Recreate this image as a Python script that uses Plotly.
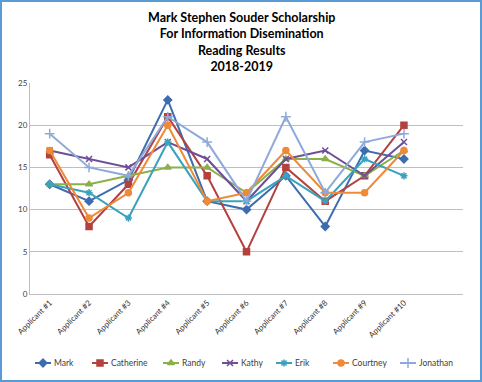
import plotly.graph_objects as go

categories = ["Applicant #1", "Applicant #2", "Applicant #3", "Applicant #4", "Applicant #5",
              "Applicant #6", "Applicant #7", "Applicant #8", "Applicant #9", "Applicant #10"]
mark = [13, 11, 13.5, 23, 11, 10, 14, 8, 17, 16]
catherine = [16.5, 8, 13, 21, 14, 5, 15, 11, 14, 20]
randy = [13, 13, 14, 15, 15, 12, 16, 16, 14, 17]
kathy = [17, 16, 15, 18, 16, 11, 16, 17, 14, 18]
erik = [13, 12, 9, 18, 11, 11, 14, 11, 16, 14]
courtney = [17, 9, 12, 20, 11, 12, 17, 12, 12, 17]
jonathan = [19, 15, 14, 21, 18, 11, 21, 12, 18, 19]
y_ticks = [0, 5, 10, 15, 20, 25]

series = [
    ("Mark", mark, "#3E6DAE", "diamond", 6),
    ("Catherine", catherine, "#B3413E", "square", 6),
    ("Randy", randy, "#8BB04A", "triangle-up", 6),
    ("Kathy", kathy, "#6E4E96", "x-thin-open", 6),
    ("Erik", erik, "#3AA2BD", "asterisk-open", 6),
    ("Courtney", courtney, "#EE8A38", "circle", 6),
    ("Jonathan", jonathan, "#8FAAD9", "cross-thin-open", 7),
]

W, H = 482, 382
# plot area in pixels
PL, PR, PT, PB = 30, 463, 83, 294
# legend entry left edges (pixels), line length, legend row centre
leg_x = [35, 92, 163, 222, 276, 333, 400]
leg_len = 16
leg_y = 363

fig = go.Figure()
for name, vals, color, sym, sz in series:
    fig.add_trace(go.Scatter(
        x=categories, y=vals, name=name, mode="lines+markers",
        line=dict(color=color, width=2),
        marker=dict(symbol=sym, size=sz, color=color, line=dict(color=color, width=1.5)),
        showlegend=False, xaxis="x", yaxis="y",
    ))

# custom legend drawn on a pixel-scaled overlay axis
for (name, vals, color, sym, sz), lx in zip(series, leg_x):
    fig.add_trace(go.Scatter(
        x=[lx, lx + leg_len / 2, lx + leg_len], y=[H - leg_y] * 3,
        mode="lines+markers", line=dict(color=color, width=2),
        marker=dict(symbol=sym, size=sz, color=color, line=dict(color=color, width=1.5),
                    opacity=[0, 1, 0]),
        showlegend=False, hoverinfo="skip", xaxis="x2", yaxis="y2",
    ))
    fig.add_annotation(text=name, x=lx + leg_len + 1, y=H - leg_y, xref="x2", yref="y2",
                       xanchor="left", yanchor="middle", showarrow=False,
                       font=dict(size=8.5, color="#404040"))

# outer frame
fig.add_shape(type="rect", xref="x2", yref="y2", x0=1, x1=W - 1, y0=1, y1=H - 1,
              line=dict(color="#5B9BD5", width=2), layer="below")

fig.add_annotation(
    text="<b>Mark Stephen Souder Scholarship<br>For Information Disemination<br>Reading Results<br>2018-2019</b>",
    xref="x2", yref="y2", x=W / 2, y=H - 8, xanchor="center", yanchor="top",
    showarrow=False, align="center",
    font=dict(size=12.5, color="#000000", family="Lato, 'Noto Sans', sans-serif"),
)

fig.update_layout(
    width=W, height=H,
    margin=dict(l=0, r=0, t=0, b=0, autoexpand=False),
    paper_bgcolor="white", plot_bgcolor="rgba(0,0,0,0)",
    font=dict(family="Lato, 'Noto Sans', sans-serif", color="#404040"),
    showlegend=False,
    xaxis=dict(
        type="category", range=[-0.5, 10.5], showgrid=False, automargin=False,
        domain=[PL / W, PR / W], anchor="y",
        showline=True, linecolor="#BFBFBF", linewidth=1,
        tickangle=-45, tickfont=dict(size=8, color="#333333"), ticks="",
    ),
    yaxis=dict(
        range=[0, 25], tickvals=y_ticks, showgrid=True, gridcolor="#BFBFBF", gridwidth=1,
        domain=[1 - PB / H, 1 - PT / H], anchor="x",
        showline=True, linecolor="#BFBFBF", linewidth=1, zeroline=False, automargin=False,
        tickfont=dict(size=8, color="#404040"), ticks="",
    ),
    xaxis2=dict(range=[0, W], domain=[0, 1], visible=False, fixedrange=True, anchor="y2"),
    yaxis2=dict(range=[0, H], domain=[0, 1], visible=False, fixedrange=True, anchor="x2"),
)

fig.write_html("out.html", config={"displayModeBar": False},
               post_script="document.body.style.margin='0';document.body.style.overflow='hidden';")
